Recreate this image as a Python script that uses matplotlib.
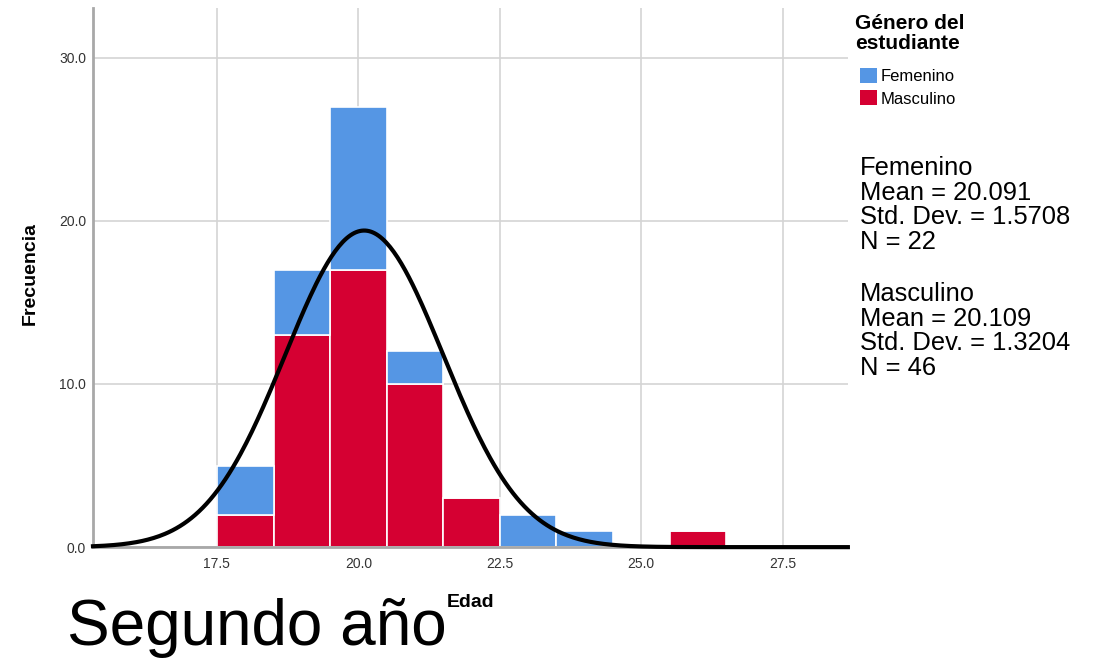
import numpy as np
import matplotlib
matplotlib.use("Agg")
import matplotlib.pyplot as plt
from matplotlib.patches import Patch

plt.rcParams['font.family'] = ['Liberation Sans', 'DejaVu Sans']

# edades (centro de cada barra) y frecuencias por genero
edades = [18, 19, 20, 21, 22, 23, 24, 26]
femenino = [3, 4, 10, 2, 0, 2, 1, 0]
masculino = [2, 13, 17, 10, 3, 0, 0, 1]

# curva normal (toda la muestra)
curva_media = 20.103
curva_sd = 1.398
n_total = 68

grupos = ["Femenino", "Masculino"]
estadisticas = [
    "Femenino\nMean = 20.091\nStd. Dev. = 1.5708\nN = 22",
    "Masculino\nMean = 20.109\nStd. Dev. = 1.3204\nN = 46",
]

color_fem = "#5596e4"
color_masc = "#d50032"

fig = plt.figure(figsize=(10.94, 6.6), dpi=100)
ax = fig.add_axes([0.085, 0.171, 0.690, 0.817])

ax.bar(edades, masculino, width=1.0, color=color_masc, edgecolor="white",
       linewidth=1.2, zorder=2)
ax.bar(edades, femenino, width=1.0, bottom=masculino, color=color_fem,
       edgecolor="white", linewidth=1.2, zorder=2)

x = np.linspace(15.31, 28.65, 400)
y = n_total * 1.0 / (curva_sd * np.sqrt(2 * np.pi)) * np.exp(-0.5 * ((x - curva_media) / curva_sd) ** 2)
ax.plot(x, y, color="black", linewidth=3, zorder=3, clip_on=False)

ax.set_xlim(15.31, 28.65)
ax.set_ylim(0, 33.05)
ax.set_xticks([17.5, 20.0, 22.5, 25.0, 27.5])
ax.set_xticklabels(["17.5", "20.0", "22.5", "25.0", "27.5"])
ax.set_yticks([0, 10, 20, 30])
ax.set_yticklabels(["0.0", "10.0", "20.0", "30.0"])
ax.tick_params(length=0, labelsize=10, colors="#333333")
ax.tick_params(axis="y", pad=5)
ax.tick_params(axis="x", pad=7)
ax.grid(True, color="#d4d4d4", linewidth=1.2, zorder=0)
ax.set_axisbelow(True)
for s in ["top", "right"]:
    ax.spines[s].set_visible(False)
ax.spines["left"].set_color("#a8a8a8")
ax.spines["left"].set_linewidth(2)
ax.spines["bottom"].set_color("#a8a8a8")
ax.spines["bottom"].set_linewidth(2)

fig.text(0.0274, 0.586, "Frecuencia", fontsize=14, fontweight="bold",
         rotation=90, ha="center", va="center")
fig.text(0.4305, 0.0864, "Edad", fontsize=14, fontweight="bold", ha="center", va="center")
fig.text(0.061, 0.023, "Segundo año", fontsize=46, ha="left", va="baseline")

# leyenda: titulo aparte para dejar el hueco como en el original
fig.text(0.7815, 0.979, "Género del\nestudiante", fontsize=15, fontweight="bold",
         va="top", ha="left", linespacing=1.1)
handles = [Patch(facecolor=color_fem), Patch(facecolor=color_masc)]
leg = fig.legend(handles, grupos, loc="upper left", bbox_to_anchor=(0.786, 0.897),
                 frameon=False, fontsize=12, borderpad=0, borderaxespad=0,
                 handlelength=1.0, handleheight=1.0, handletextpad=0.25,
                 labelspacing=0.38)

fig.text(0.786, 0.7636, estadisticas[0], fontsize=18.4, va="top", linespacing=1.03)
fig.text(0.786, 0.5727, estadisticas[1], fontsize=18.4, va="top", linespacing=1.03)

fig.savefig("out.png", dpi=100)
